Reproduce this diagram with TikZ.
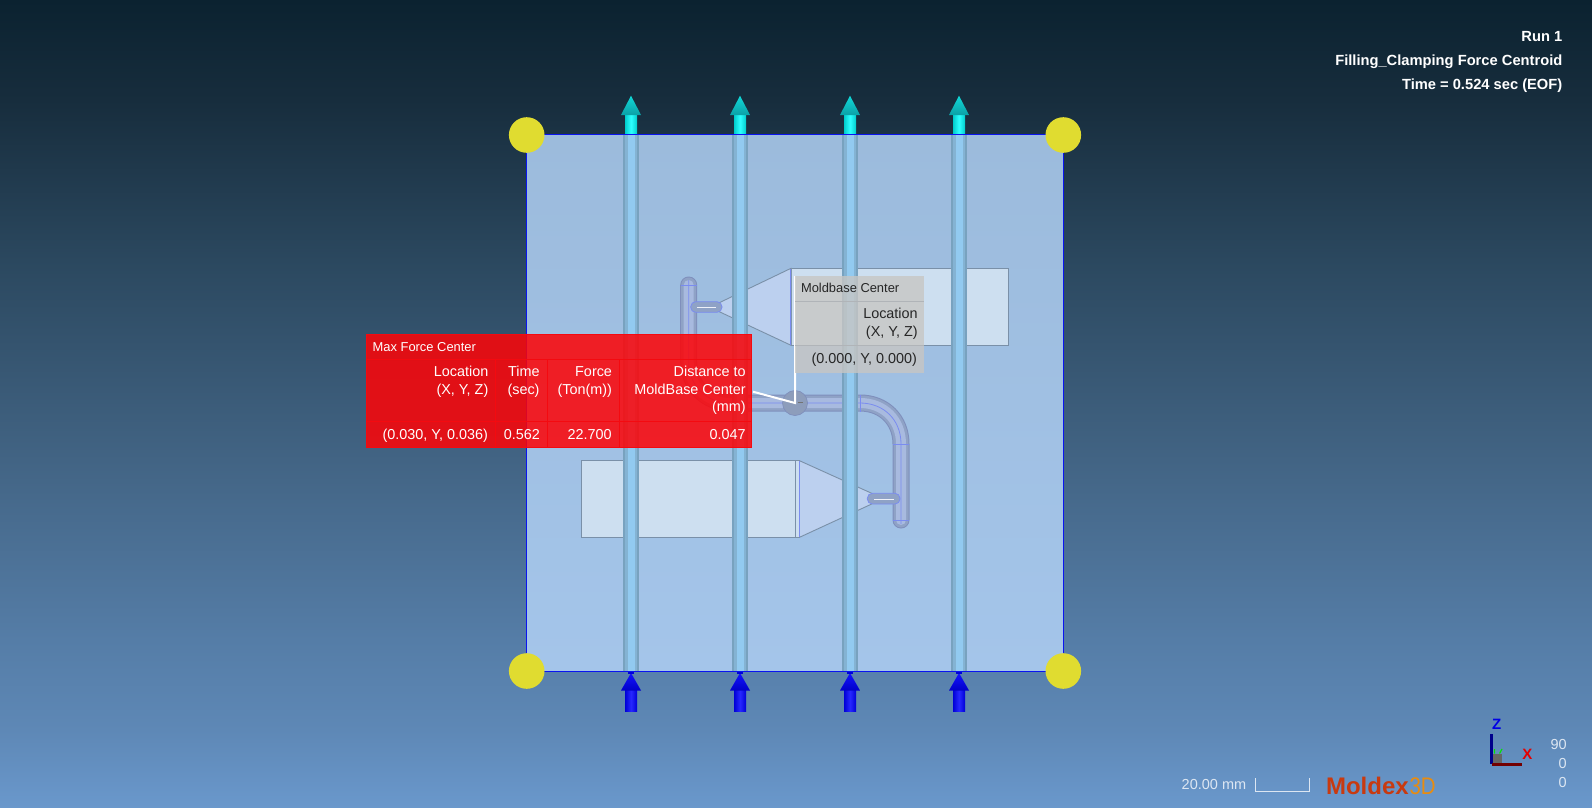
\documentclass[tikz,border=0pt]{standalone}
\usepackage{fontspec}
\setmainfont{Liberation Sans}
\definecolor{plateedge}{HTML}{0A14F0}
\definecolor{platetop}{HTML}{9CBBDC}
\definecolor{platebot}{HTML}{A4C5EA}
\definecolor{poleedge}{HTML}{78A2BF}
\definecolor{polesoft}{HTML}{84B3D3}
\definecolor{polemid}{HTML}{92CAF0}
\definecolor{sun}{HTML}{E0DC30}
\definecolor{runfill}{HTML}{CDDFF0}
\definecolor{runline}{HTML}{7A90A8}
\definecolor{conefill}{HTML}{BCD0EF}
\definecolor{pipeedge}{HTML}{7F8FBC}
\definecolor{pipedark}{HTML}{8FA2C6}
\definecolor{pipelight}{HTML}{A8BADF}
\definecolor{pipeline}{HTML}{7A8CF0}
\definecolor{redfill}{RGB}{253,4,7}
\definecolor{redline}{HTML}{F40A10}
\definecolor{greyfill}{HTML}{C7C6C3}
\definecolor{greyline}{HTML}{B0B4B8}
\definecolor{palettxt}{HTML}{DCE6F2}
\definecolor{logored}{HTML}{C83A10}
\definecolor{logoorg}{HTML}{E88C10}
\tikzset{
  lab/.style={inner sep=0pt,outer sep=0pt},
  rt/.style={lab,anchor=base east},
  lf/.style={lab,anchor=base west},
  body/.style={font=\fontsize{14.4}{17}\selectfont},
  small/.style={font=\fontsize{12.9}{15}\selectfont},
  head/.style={font=\bfseries\fontsize{14.7}{17}\selectfont,text=white},
  status/.style={font=\fontsize{14.5}{17}\selectfont,text=palettxt},
  runner/.style={fill=runfill,draw=runline,line width=.9pt},
  cone/.style={fill=conefill,draw=runline,line width=.9pt},
  blueline/.style={draw=pipeline,line width=.9pt},
  tubeA/.style={draw=pipeedge,line width=17pt,line cap=round},
  tubeB/.style={draw=pipedark,line width=15pt,line cap=round},
  tubeC/.style={draw=pipelight,line width=10pt,line cap=round},
  tubeD/.style={draw=pipeline,line width=.8pt},
  redgrid/.style={draw=redline,line width=.9pt},
  greygrid/.style={draw=greyline,line width=.9pt},
  ball/.style={fill=sun,draw=none}
}
\begin{document}
\begin{tikzpicture}[x=1pt,y=-1pt]
\useasboundingbox (0,0) rectangle (1592,808);
% background
\shade[top color={rgb,255:red,11;green,34;blue,48},bottom color={rgb,255:red,23;green,45;blue,61}] (0,0) rectangle (1592,100.5);
\shade[top color={rgb,255:red,23;green,45;blue,61},bottom color={rgb,255:red,43;green,72;blue,95}] (0,100) rectangle (1592,260.5);
\shade[top color={rgb,255:red,43;green,72;blue,95},bottom color={rgb,255:red,66;green,100;blue,132}] (0,260) rectangle (1592,460.5);
\shade[top color={rgb,255:red,66;green,100;blue,132},bottom color={rgb,255:red,85;green,125;blue,167}] (0,460) rectangle (1592,640.5);
\shade[top color={rgb,255:red,85;green,125;blue,167},bottom color={rgb,255:red,94;green,136;blue,182}] (0,640) rectangle (1592,730.5);
\shade[top color={rgb,255:red,94;green,136;blue,182},bottom color={rgb,255:red,106;green,152;blue,204}] (0,730) rectangle (1592,808);
% plate
\shade[top color=platetop,bottom color=platebot] (526.7,134.3) rectangle (1063.3,671.7);
% runners upper
\fill[runner] (791,268.3) rectangle (1008.3,345.3);
\fill[cone] (791,268.3) -- (719.3,302.7) -- (719.3,311.7) -- (791,345.3) -- cycle;
\draw[blueline] (790.5,269) -- (790.5,345);
% runners lower
\fill[runner] (581.7,460.7) rectangle (799.5,537.3);
\draw[draw=runline,line width=.9pt] (795.7,460.7) -- (795.7,537.3);
\fill[cone] (799.5,460.7) -- (871.7,493.3) -- (871.7,504) -- (799.5,537.3) -- cycle;
\draw[blueline] (799.5,461) -- (799.5,537);
% cold runner pipe
\draw[tubeA] (688.7,285) -- (688.7,362) .. controls (688.7,385) and (706,403) .. (729.7,403) -- (860,403) .. controls (884,403) and (901,420) .. (901,444) -- (901,520);
\draw[tubeB] (688.7,285) -- (688.7,362) .. controls (688.7,385) and (706,403) .. (729.7,403) -- (860,403) .. controls (884,403) and (901,420) .. (901,444) -- (901,520);
\draw[tubeC] (688.7,285) -- (688.7,362) .. controls (688.7,385) and (706,403) .. (729.7,403) -- (860,403) .. controls (884,403) and (901,420) .. (901,444) -- (901,520);
\draw[tubeD] (688.7,280) -- (688.7,362) .. controls (688.7,385) and (706,403) .. (729.7,403) -- (860,403) .. controls (884,403) and (901,420) .. (901,444) -- (901,524);
\draw[tubeD] (681,285) -- (696.5,285) (860.3,395) -- (860.3,411.5) (893,444.5) -- (909,444.5) (893,520) -- (909,520);
% nozzles
\fill[pipedark,draw=pipeline,line width=.8pt,rounded corners=5pt] (690.7,301.7) rectangle (722,312.3);
\draw[white!80!pipelight,line width=.8pt] (697,307.5) -- (716,307.5);
\fill[pipedark,draw=pipeline,line width=.8pt,rounded corners=5pt] (867.3,493.3) rectangle (900,504);
\draw[white!80!pipelight,line width=.8pt] (874,499) -- (894,499);
% centre sphere
\fill[fill=pipedark!85!gray,draw=pipeedge,line width=.7pt] (795,403) circle[radius=12.5];
\draw[black!55,line width=.8pt] (798,402.5) -- (803,402.5);
% poles
\foreach \p in {631,740,850,959}{
  \fill[poleedge] (\p-8,134.3) rectangle (\p+8,671.7);
  \fill[polesoft] (\p-6,134.3) rectangle (\p+6,671.7);
  \fill[polemid] (\p-3.5,134.3) rectangle (\p+4,671.7);
  % top arrow
  \shade[left color={rgb,255:red,0;green,205;blue,205},right color={rgb,255:red,0;green,205;blue,205},middle color={rgb,255:red,48;green,255;blue,255}] (\p-6,115) rectangle (\p+6,134.3);
  \shade[top color={rgb,255:red,16;green,216;blue,216},bottom color={rgb,255:red,12;green,160;blue,166}] (\p,95.7) -- (\p+10,115) -- (\p-10,115) -- cycle;
  % bottom arrow
  \shade[left color={rgb,255:red,0;green,0;blue,215},right color={rgb,255:red,0;green,0;blue,215},middle color={rgb,255:red,40;green,40;blue,255}] (\p-6,690) rectangle (\p+6,711);
  \shade[top color={rgb,255:red,20;green,20;blue,255},bottom color={rgb,255:red,0;green,0;blue,200}] (\p,673) -- (\p+10,690.5) -- (\p-10,690.5) -- cycle;
  \fill[blue!85!black] (\p-3,671.7) rectangle (\p+3,674);
}
% plate outline
\draw[plateedge,line width=1pt] (526.7,134.3) rectangle (1063.3,671.7);
% corner balls
\fill[ball] (526.7,135) circle[radius=17.8];
\fill[ball] (1063.3,135) circle[radius=17.8];
\fill[ball] (526.7,671) circle[radius=17.8];
\fill[ball] (1063.3,671) circle[radius=17.8];
% moldbase leader lines
\draw[white,line width=2pt] (795,276) -- (795,403) -- (753,391.7);
% moldbase table
\fill[greyfill,fill opacity=.8] (795,276) rectangle (924,372.7);
\draw[greygrid] (795,301) -- (924,301) (795,345.7) -- (924,345.7);
\node[lf,small,text=black!85] (mbtitle) at (801,292.7) {Moldbase Center};
\node[rt,body,text=black!85] (mbloc) at (917.7,318.3) {Location};
\node[rt,body,text=black!85] (mbxyz) at (917.7,336.7) {(X, Y, Z)};
\node[rt,body,text=black!85] (mbval) at (917,363.3) {(0.000, Y, 0.000)};
% max force table
\fill[redfill,fill opacity=.86] (366,334) rectangle (751.7,447.7);
\draw[redgrid] (366,334) rectangle (751.7,447.7);
\draw[redgrid] (366,359.3) -- (751.7,359.3) (366,421.7) -- (751.7,421.7);
\draw[redgrid] (495,359.3) -- (495,447.7) (547.7,359.3) -- (547.7,447.7) (619.7,359.3) -- (619.7,447.7);
\node[lf,small,text=white] (mftitle) at (372.7,351) {Max Force Center};
\node[rt,body,text=white] (mfloc) at (488.3,376.7) {Location};
\node[rt,body,text=white] (mfxyz) at (488.3,394) {(X, Y, Z)};
\node[rt,body,text=white] (mftime) at (539.5,376.7) {Time};
\node[rt,body,text=white] (mfsec) at (539.5,394) {(sec)};
\node[rt,body,text=white] (mfforce) at (612,376.7) {Force};
\node[rt,body,text=white] (mfton) at (612,394) {(Ton(m))};
\node[rt,body,text=white] (mfdist) at (745.7,376.7) {Distance to};
\node[rt,body,text=white] (mfmb) at (745.7,394) {MoldBase Center};
\node[rt,body,text=white] (mfmm) at (745.7,411.7) {(mm)};
\node[rt,body,text=white] (mfv1) at (488,439) {(0.030, Y, 0.036)};
\node[rt,body,text=white] (mfv2) at (540,439) {0.562};
\node[rt,body,text=white] (mfv3) at (611.7,439) {22.700};
\node[rt,body,text=white] (mfv4) at (745.7,439) {0.047};
% header
\node[rt,head] (h1) at (1562.3,41.7) {Run 1};
\node[rt,head] (h2) at (1562.3,65.7) {Filling\_Clamping Force Centroid};
\node[rt,head] (h3) at (1562.3,89.3) {Time = 0.524 sec (EOF)};
% scale
\node[lf,status] (scale) at (1181.7,789) {20.00 mm};
\draw[palettxt,line width=1pt] (1255.8,778.3) -- (1255.8,791) -- (1309.4,791) -- (1309.4,778.3);
% logo
\node[lf,font=\bfseries\fontsize{24}{24}\selectfont,text=logored] (logoa) at (1326,794) {Moldex};
\node[lf,font=\fontsize{24}{24}\selectfont,text=logoorg,xscale=.85] (logob) at (1409.5,794) {3D};
% triad
\fill[gray!80!black] (1493.3,754) rectangle (1502,764);
\draw[green!90!black,line width=1.2pt] (1494.5,749) -- (1494.5,753.5) (1499.5,753.5) -- (1502,749);
\draw[blue!55!black,line width=3pt] (1491.7,734) -- (1491.7,763.5);
\draw[red!45!black,line width=3pt] (1492,764.3) -- (1521.7,764.3);
\node[lab,anchor=base,font=\bfseries\fontsize{15}{15}\selectfont,text=blue!90!black] (zlab) at (1496.7,729.3) {Z};
\node[lab,anchor=base,font=\bfseries\fontsize{15}{15}\selectfont,text=red!90!black] (xlab) at (1527.3,759.3) {X};
\node[rt,status] (a1) at (1566.7,749.3) {90};
\node[rt,status] (a2) at (1566.7,768.3) {0};
\node[rt,status] (a3) at (1566.7,787.7) {0};
\end{tikzpicture}
\end{document}
